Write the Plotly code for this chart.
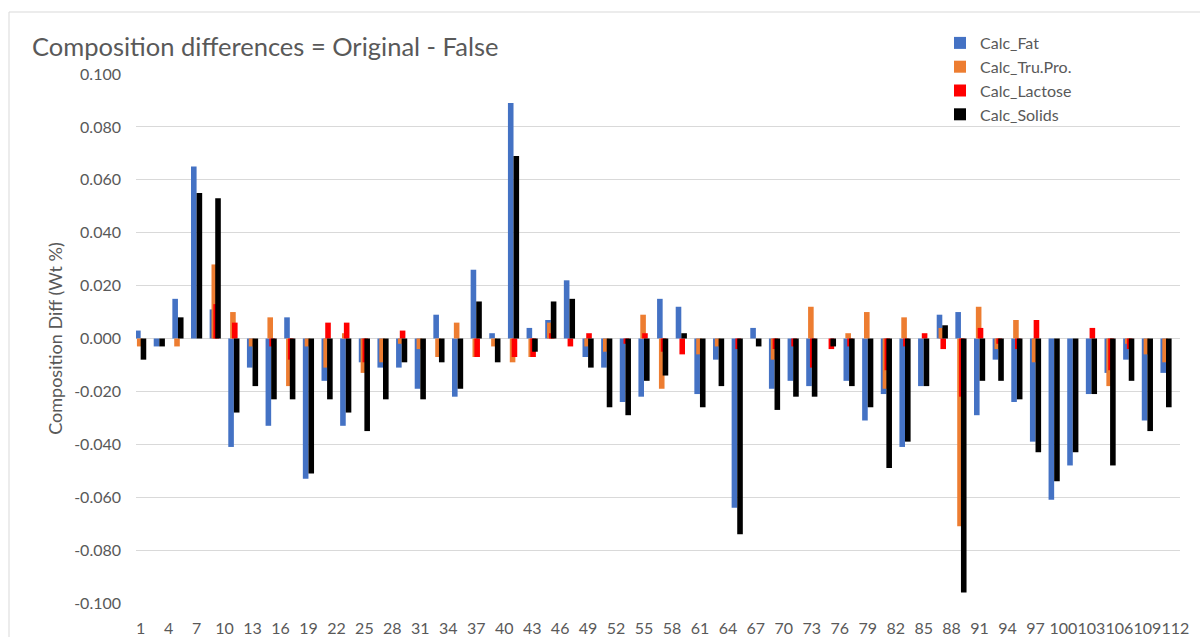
import plotly.graph_objects as go

# ---- data ----
sample_ids = [1, 3, 5, 7, 9, 11, 13, 15, 17, 19, 21, 23, 25, 27, 29, 31, 33, 35, 37, 39,
              41, 43, 45, 47, 49, 51, 53, 55, 57, 59, 61, 63, 65, 67, 69, 71, 73, 75, 77, 79,
              81, 83, 85, 87, 89, 91, 93, 95, 97, 99, 101, 103, 105, 107, 109, 111]

calc_fat = [0.003, -0.003, 0.015, 0.065, 0.011, -0.041, -0.011, -0.033, 0.008, -0.053,
            -0.016, -0.033, -0.009, -0.011, -0.011, -0.019, 0.009, -0.022, 0.026, 0.002,
            0.089, 0.004, 0.007, 0.022, -0.007, -0.011, -0.024, -0.022, 0.015, 0.012,
            -0.021, -0.008, -0.064, 0.004, -0.019, -0.016, -0.018, 0.000, -0.016, -0.031,
            -0.021, -0.041, -0.018, 0.009, 0.010, -0.029, -0.008, -0.024, -0.039, -0.061,
            -0.048, -0.021, -0.013, -0.008, -0.031, -0.013]

calc_tru_pro = [-0.003, 0.000, -0.003, 0.000, 0.028, 0.010, -0.003, 0.008, -0.018, -0.003,
                -0.011, 0.002, -0.013, -0.009, -0.002, -0.004, -0.007, 0.006, -0.007, -0.003,
                -0.009, -0.007, 0.006, 0.000, -0.003, -0.005, 0.000, 0.009, -0.019, 0.000,
                -0.006, -0.003, 0.000, 0.000, -0.008, 0.000, 0.012, 0.000, 0.002, 0.010,
                -0.019, 0.008, 0.000, 0.004, -0.071, 0.012, -0.004, 0.007, -0.009, 0.000,
                0.000, 0.000, -0.018, -0.002, -0.006, -0.009]

calc_lactose = [0.000, 0.000, 0.000, 0.000, 0.013, 0.006, 0.000, -0.003, -0.008, 0.000,
                0.006, 0.006, -0.009, 0.000, 0.003, 0.000, 0.000, 0.000, -0.007, 0.000,
                -0.007, -0.007, 0.002, -0.003, 0.002, 0.000, -0.002, 0.002, -0.005, -0.006,
                0.000, 0.000, -0.004, 0.000, -0.004, -0.003, -0.011, -0.004, -0.003, 0.000,
                -0.012, -0.003, 0.002, -0.004, -0.022, 0.004, -0.002, -0.004, 0.007, 0.000,
                0.000, 0.004, -0.012, -0.004, 0.000, 0.000]

calc_solids = [-0.008, -0.003, 0.008, 0.055, 0.053, -0.028, -0.018, -0.023, -0.023, -0.051,
               -0.023, -0.028, -0.035, -0.023, -0.009, -0.023, -0.009, -0.019, 0.014, -0.009,
               0.069, -0.005, 0.014, 0.015, -0.011, -0.026, -0.029, -0.016, -0.014, 0.002,
               -0.026, -0.018, -0.074, -0.003, -0.027, -0.022, -0.022, -0.003, -0.018, -0.026,
               -0.049, -0.039, -0.018, 0.005, -0.096, -0.016, -0.016, -0.023, -0.043, -0.054,
               -0.043, -0.021, -0.048, -0.016, -0.035, -0.026]

tick_labels = [1, 4, 7, 10, 13, 16, 19, 22, 25, 28, 31, 34, 37, 40, 43, 46, 49, 52, 55, 58,
               61, 64, 67, 70, 73, 76, 79, 82, 85, 88, 91, 94, 97, 100, 103, 106, 109, 112]

y_ticks = [0.100, 0.080, 0.060, 0.040, 0.020, 0.000, -0.020, -0.040, -0.060, -0.080, -0.100]

series_names = ["Calc_Fat", "Calc_Tru.Pro.", "Calc_Lactose", "Calc_Solids"]
series_values = [calc_fat, calc_tru_pro, calc_lactose, calc_solids]
series_colors = ["#4472C4", "#ED7D31", "#FF0000", "#000000"]
series_offsets = [-0.6, -0.4, -0.2, 0.0]

FONT = "Lato"
GREY = "#595959"
GRID = "#D9D9D9"

# plot area in pixels
L, R, T, B = 136, 20, 74, 34
PW, PH = 1200 - L - R, 637 - T - B

fig = go.Figure()
for name, vals, col, off in zip(series_names, series_values, series_colors, series_offsets):
    fig.add_trace(go.Bar(
        x=sample_ids, y=vals, name=name,
        marker=dict(color=col, line=dict(width=0)),
        width=0.6, offset=off,
    ))

fig.update_layout(
    width=1200, height=637,
    barmode="overlay",
    paper_bgcolor="white", plot_bgcolor="white",
    margin=dict(l=L, r=R, t=T, b=B, autoexpand=False),
    font=dict(family=FONT, color=GREY),
    title=dict(text="Composition differences = Original - False",
               font=dict(family=FONT, size=25.5, color=GREY),
               x=32 / 1200, xanchor="left", xref="container",
               y=1 - 47 / 637, yanchor="middle", yref="container"),
    showlegend=True,
    legend=dict(xref="paper", yref="paper",
                x=(940 - L) / PW, xanchor="left",
                y=1 + (T - 26) / PH, yanchor="top",
                bgcolor="rgba(0,0,0,0)",
                font=dict(family=FONT, size=16, color=GREY),
                tracegroupgap=0, itemwidth=30),
    xaxis=dict(range=[0.5, 112.5], tickmode="array",
               tickvals=tick_labels, ticktext=[str(t) for t in tick_labels],
               tickangle=0,
               showgrid=False, zeroline=False, showline=False, ticks="",
               tickfont=dict(family=FONT, size=16, color=GREY),
               ticklabelstandoff=14),
    yaxis=dict(range=[-0.1, 0.1], tickmode="array", tickvals=y_ticks,
               ticktext=[f"{v:.3f}" for v in y_ticks],
               showgrid=True, gridcolor=GRID, gridwidth=1,
               zeroline=True, zerolinecolor=GRID, zerolinewidth=1,
               showline=False, ticks="",
               tickfont=dict(family=FONT, size=16, color=GREY),
               ticklabelstandoff=14,
               title=dict(text="Composition Diff (Wt %)",
                          font=dict(family=FONT, size=18, color=GREY),
                          standoff=6)),
    shapes=[dict(type="rect", xref="paper", yref="paper",
                 x0=(9 - L) / PW, x1=(1215 - L) / PW,
                 y0=-0.2, y1=1 + (T - 12) / PH,
                 line=dict(color=GRID, width=1), fillcolor="rgba(0,0,0,0)", layer="below")],
)

fig.write_html("out.html", config={"displayModeBar": False},
               post_script="document.body.style.margin='0';document.body.style.overflow='hidden';")
